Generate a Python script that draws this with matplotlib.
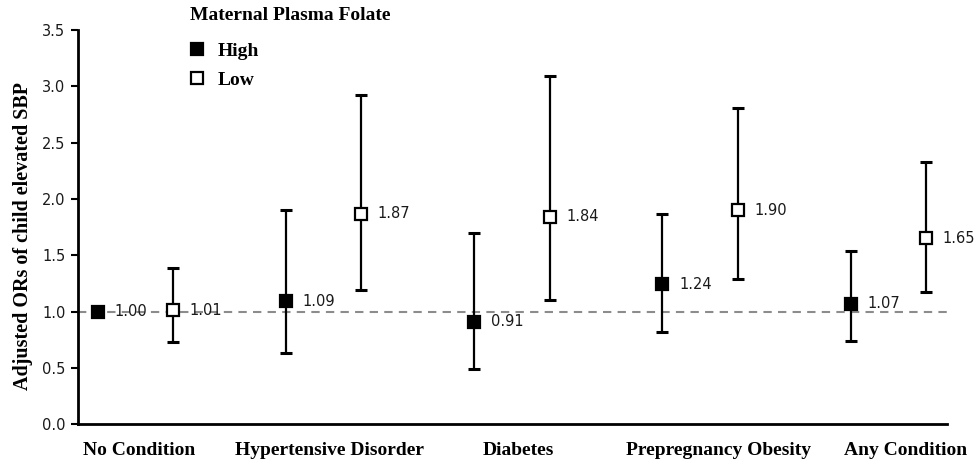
'''Adjusted ORs of child elevated SBP by maternal plasma folate.'''
import numpy as np
import matplotlib
matplotlib.use('Agg')
from matplotlib import pyplot as plt

categories = ['No Condition', 'Hypertensive Disorder', 'Diabetes',
              'Prepregnancy Obesity', 'Any Condition']
high_or = [1.00, 1.09, 0.91, 1.24, 1.07]
high_lo = [np.nan, 0.63, 0.49, 0.82, 0.74]
high_hi = [np.nan, 1.90, 1.70, 1.87, 1.54]
low_or = [1.01, 1.87, 1.84, 1.90, 1.65]
low_lo = [0.73, 1.19, 1.10, 1.29, 1.17]
low_hi = [1.39, 2.92, 3.09, 2.81, 2.33]
y_ticks = [0.0, 0.5, 1.0, 1.5, 2.0, 2.5, 3.0, 3.5]

SERIF = 'Liberation Serif'
SANS = 'DejaVu Sans'

fig = plt.figure(figsize=(9.74, 4.62), dpi=100)
ax = fig.add_axes([0.080, 0.082, 0.892, 0.853])

x = np.arange(len(categories))
offset = 0.2

# reference line at OR = 1
ax.axhline(1.0, color='#8c8c8c', linestyle=(0, (4, 3)), linewidth=1.5, zorder=1)


def draw_series(xs, ors, lo, hi, face, label):
    ors = np.array(ors)
    err = np.array([ors - np.array(lo), np.array(hi) - ors])
    ax.errorbar(xs, ors, yerr=err, fmt='none', ecolor='black', elinewidth=1.6,
                capsize=4.3, capthick=2.2, zorder=2)
    ax.plot(xs, ors, linestyle='none', marker='s', markersize=8,
            markerfacecolor=face, markeredgecolor='black', markeredgewidth=1.6,
            label=label, zorder=3)
    for xi, v in zip(xs, ors):
        ax.annotate(f'{v:.2f}', (xi, v), xytext=(12, 0), textcoords='offset points',
                    ha='left', va='center', fontsize=10.5, family=SANS,
                    color='#1a1a1a', zorder=4)


draw_series(x - offset, high_or, high_lo, high_hi, 'black', 'High')
draw_series(x + offset, low_or, low_lo, low_hi, 'white', 'Low')

# Axes
ax.set_xlim(-0.305, 4.31)
ax.set_ylim(0, 3.5)
ax.set_yticks(y_ticks)
ax.set_yticklabels([f'{t:.1f}' for t in y_ticks], family=SANS, fontsize=10.5,
                   color='#1a1a1a')
label_shift = [0.02, 0.03, 0.035, 0.1, 0.09]
ax.set_xticks(x + np.array(label_shift))
ax.set_xticklabels(categories, family=SERIF, fontweight='bold', fontsize=14)
ax.tick_params(axis='x', length=0, pad=13)
ax.tick_params(axis='y', direction='out', length=5, width=1.5, pad=4)
for side in ('top', 'right'):
    ax.spines[side].set_visible(False)
for side in ('left', 'bottom'):
    ax.spines[side].set_linewidth(2)
ax.set_ylabel('Adjusted ORs of child elevated SBP', family=SERIF,
              fontweight='bold', fontsize=14.5)
ax.yaxis.set_label_coords(-0.052, 0.477)

# Legend: title as its own text so the gap to the entries can be set
fig.text(190 / 974, 1 - 16 / 462, 'Maternal Plasma Folate', family=SERIF,
         fontweight='bold', fontsize=14, ha='left', va='center')
ax.legend(loc='upper left', bbox_to_anchor=(0.196, 1 - 42 / 462),
          bbox_transform=fig.transFigure, frameon=False,
          prop={'family': SERIF, 'weight': 'bold', 'size': 14},
          handlelength=0.6, handletextpad=0.75, labelspacing=0.62,
          borderpad=0, borderaxespad=0, markerscale=1.0)

fig.savefig('out.png', dpi=100)
